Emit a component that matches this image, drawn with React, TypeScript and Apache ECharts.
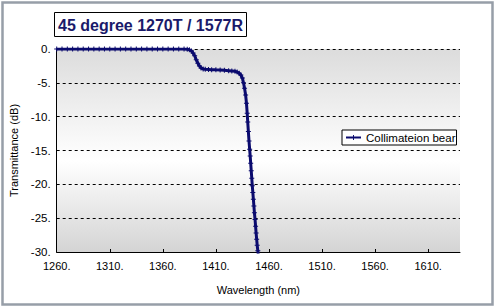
import React, { useEffect, useRef } from "react";
import * as echarts from "echarts";

const titleText = "45 degree 1270T / 1577R";
const seriesName = "Collimateion beam";
const legendLabel = "Collimateion bear";
const xAxisName = "Wavelength (nm)";
const yAxisName = "Transmittance (dB)";

// wavelength (nm)
const wavelengths = [
  1260, 1265, 1270, 1275, 1280, 1285, 1290, 1295, 1300, 1305, 1310, 1315, 1320,
  1325, 1330, 1335, 1340, 1345, 1350, 1355, 1360, 1365, 1370, 1375, 1380, 1383,
  1385, 1387, 1388.5, 1390, 1391.5, 1393, 1394.5, 1396, 1398, 1400, 1403, 1406,
  1410, 1414, 1418, 1422, 1425, 1428, 1430, 1432, 1433.5, 1435, 1436, 1437, 1438,
  1438.8, 1439.5, 1440, 1440.6, 1441.2, 1441.8, 1442.3, 1442.8, 1443.3, 1443.8,
  1444.3, 1444.8, 1445.3, 1445.8, 1446.3, 1446.9, 1447.4, 1447.9, 1448.4, 1448.9,
  1449.5, 1450,
];
// transmittance (dB)
const transmittance = [
  0, 0, 0, 0, 0, 0, 0, 0, 0, 0, 0, 0, 0, 0, 0, 0, 0, 0, 0, 0, 0, 0, 0, 0, 0,
  -0.05, -0.1, -0.3, -0.6, -1.0, -1.6, -2.1, -2.5, -2.8, -2.95, -3.0, -3.02,
  -3.05, -3.08, -3.1, -3.15, -3.2, -3.25, -3.3, -3.4, -3.6, -3.85, -4.3, -5.0,
  -5.8, -6.8, -8.0, -9.5, -10.8, -12.2, -13.6, -14.8, -15.8, -16.9, -18.0, -19.1,
  -20.2, -21.2, -22.2, -23.2, -24.2, -25.2, -26.2, -27.2, -28.1, -29.0, -29.8,
  -30.6,
];

const FONT = "'Liberation Sans', Arial, sans-serif";
const NAVY = "#0b0b6e";

export default function App() {
  const ref = useRef<HTMLDivElement>(null);
  useEffect(() => {
    if (!ref.current) return;
    const chart = echarts.init(ref.current, null, { renderer: "svg" });
    const data = wavelengths.map((w, i) => [w, transmittance[i]]);
    chart.setOption({
      animation: false,
      backgroundColor: "#ffffff",
      textStyle: { fontFamily: FONT },
      title: {
        text: titleText,
        left: 54,
        top: 12,
        borderColor: "#000",
        borderWidth: 1,
        padding: [4, 4, 3, 4],
        textStyle: {
          fontFamily: FONT,
          fontSize: 16,
          fontWeight: "bold",
          color: "#1a1a6a",
          lineHeight: 18,
        },
      },
      legend: {
        left: 342,
        top: 130,
        padding: [1, 1, 1, 3],
        borderColor: "#000",
        borderWidth: 1,
        backgroundColor: "#fff",
        itemWidth: 15,
        itemHeight: 6,
        formatter: () => legendLabel,
        textStyle: {
          fontFamily: FONT,
          fontSize: 11.5,
          color: "#000",
          lineHeight: 13,
        },
        data: [seriesName],
      },
      grid: {
        left: 56.7,
        right: 36,
        top: 49,
        bottom: 55,
        show: true,
        borderWidth: 0,
        backgroundColor: {
          type: "linear",
          x: 0,
          y: 0,
          x2: 0,
          y2: 1,
          colorStops: [
            { offset: 0, color: "#dcdcdc" },
            { offset: 0.55, color: "#ffffff" },
            { offset: 1, color: "#d4d4d4" },
          ],
        },
      },
      xAxis: {
        type: "value",
        min: 1260,
        max: 1640,
        interval: 50,
        name: xAxisName,
        nameLocation: "middle",
        nameGap: 32,
        nameTextStyle: { fontFamily: FONT, fontSize: 11, color: "#000" },
        axisLine: { show: true, onZero: false, lineStyle: { color: "#000", width: 1 } },
        axisTick: { show: true, inside: true, length: 3, lineStyle: { color: "#000" } },
        axisLabel: {
          showMaxLabel: false,
          margin: 8,
          fontFamily: FONT,
          fontSize: 11,
          color: "#000",
          formatter: (v: number) => (v === 1640 ? "" : v + "."),
        },
        splitLine: { show: false },
      },
      yAxis: {
        type: "value",
        min: -30,
        max: 0,
        interval: 5,
        name: yAxisName,
        nameLocation: "middle",
        nameGap: 32,
        nameTextStyle: { fontFamily: FONT, fontSize: 11, color: "#000" },
        axisLine: { show: true, onZero: false, lineStyle: { color: "#000", width: 1 } },
        axisTick: { show: false },
        axisLabel: {
          margin: 6,
          fontFamily: FONT,
          fontSize: 11.5,
          color: "#000",
          formatter: (v: number) => v + ".",
        },
        splitLine: {
          show: true,
          lineStyle: { color: "#000", type: [3, 3], width: 1 },
        },
      },
      graphic: [
        {
          type: "rect",
          left: 0,
          top: 0,
          shape: { x: 1, y: 1, width: 490, height: 302 },
          style: { fill: "none", stroke: "#979ea8", lineWidth: 2.5 },
          silent: true,
          z: 100,
        },
      ],
      series: [
        {
          name: seriesName,
          type: "line",
          data,
          showAllSymbol: true,
          symbol: "path://M2,0H3V2H5V3H3V5H2V3H0V2H2Z",
          symbolSize: 5,
          lineStyle: { color: NAVY, width: 3 },
          itemStyle: { color: NAVY },
          clip: true,
        },
      ],
    });
    return () => chart.dispose();
  }, []);
  return (
    <div
      ref={ref}
      style={{ position: "fixed", left: 0, top: 0, width: 496, height: 307 }}
    />
  );
}
